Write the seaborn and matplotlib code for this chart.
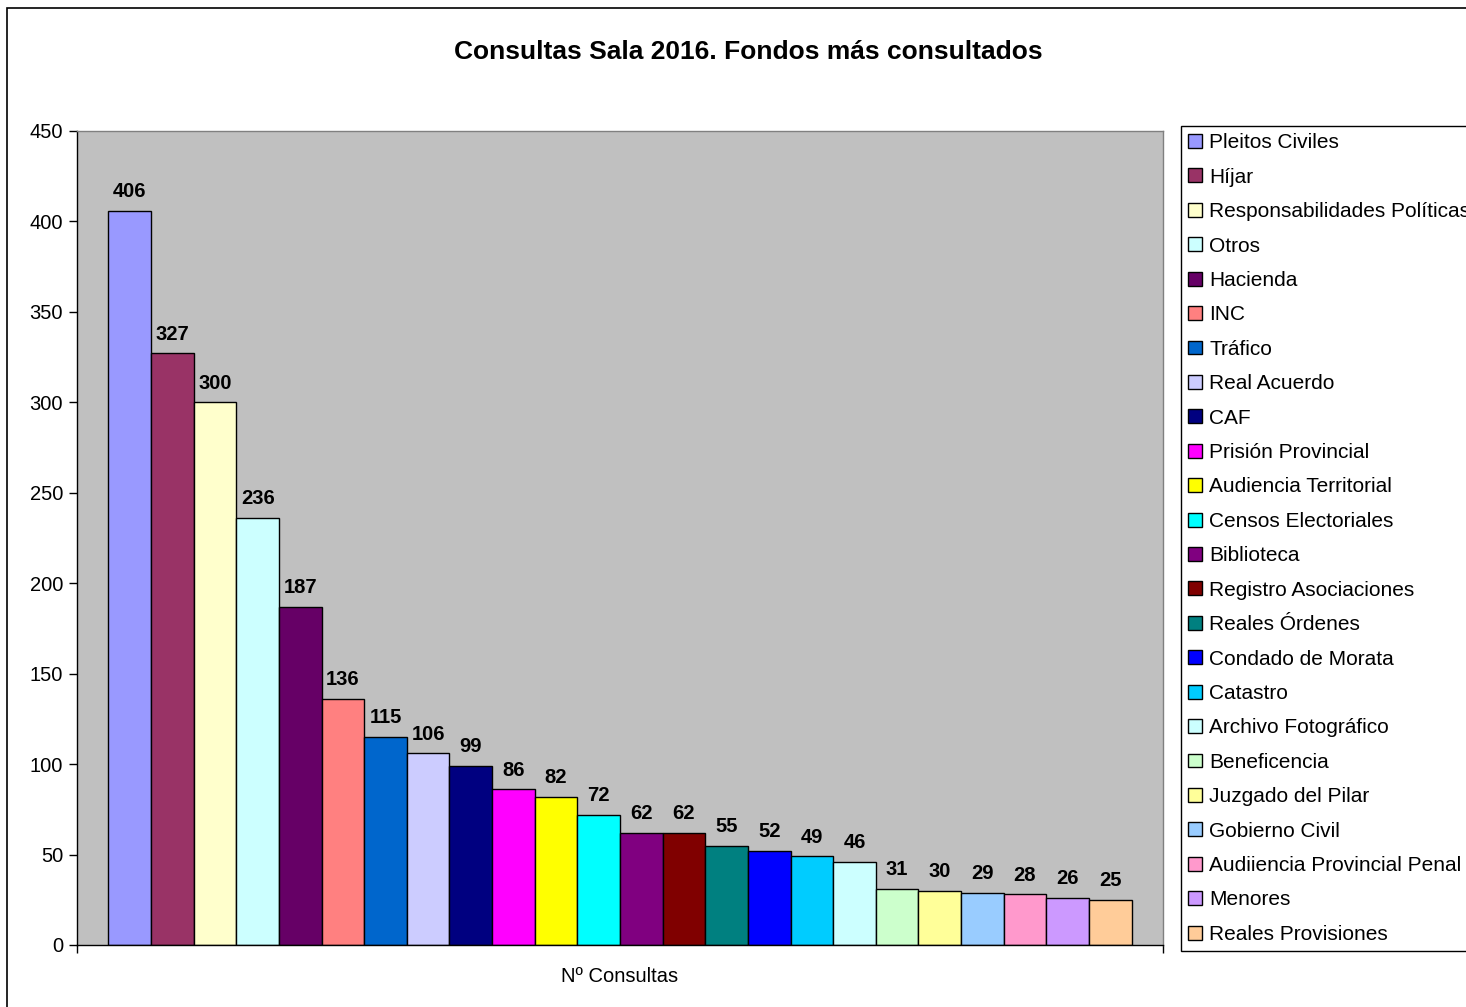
import pandas as pd
import matplotlib.pyplot as plt
import seaborn as sns
from matplotlib.patches import Rectangle

# Fondos and number of consultations (Sala 2016)
fondos = ['Pleitos Civiles', 'Híjar', 'Responsabilidades Políticas', 'Otros', 'Hacienda',
          'INC', 'Tráfico', 'Real Acuerdo', 'CAF', 'Prisión Provincial',
          'Audiencia Territorial', 'Censos Electoriales', 'Biblioteca', 'Registro Asociaciones',
          'Reales Órdenes', 'Condado de Morata', 'Catastro', 'Archivo Fotográfico',
          'Beneficencia', 'Juzgado del Pilar', 'Gobierno Civil', 'Audiiencia Provincial Penal',
          'Menores', 'Reales Provisiones']
consultas = [406, 327, 300, 236, 187, 136, 115, 106, 99, 86, 82, 72,
             62, 62, 55, 52, 49, 46, 31, 30, 29, 28, 26, 25]
colores = ['#9999FF', '#993366', '#FFFFCC', '#CCFFFF', '#660066', '#FF8080',
           '#0066CC', '#CCCCFF', '#000080', '#FF00FF', '#FFFF00', '#00FFFF',
           '#800080', '#800000', '#008080', '#0000FF', '#00CCFF', '#CCFFFF',
           '#CCFFCC', '#FFFF99', '#99CCFF', '#FF99CC', '#CC99FF', '#FFCC99']
categoria = 'Nº Consultas'

df = pd.DataFrame({'serie': [categoria] * len(fondos), 'fondo': fondos, 'valor': consultas})

sns.set_style('white')
plt.rcParams['font.family'] = ['Liberation Sans', 'DejaVu Sans']
plt.rcParams['text.color'] = 'black'
plt.rcParams['xtick.color'] = 'black'
plt.rcParams['ytick.color'] = 'black'
plt.rcParams['axes.labelcolor'] = 'black'

fig = plt.figure(figsize=(14.66, 10.07), dpi=100)
ax = fig.add_axes([77 / 1466, 1 - 945 / 1007, (1163 - 77) / 1466, (945 - 131) / 1007])
ax.set_facecolor('#C0C0C0')

sns.barplot(data=df, x='serie', y='valor', hue='fondo', hue_order=fondos,
            palette=colores, width=0.942, saturation=1, edgecolor='black',
            linewidth=1, ax=ax, legend=True)

for cont in ax.containers:
    ax.bar_label(cont, fmt='%d', padding=7, fontsize=14.5, fontweight='bold', color='black')

ax.set_xlim(-0.5, 0.5)
ax.set_ylim(0, 450)
ax.set_yticks(range(0, 451, 50))
ax.set_xlabel('')
ax.set_ylabel('')
ax.tick_params(axis='y', labelsize=14.5, left=True, length=6, width=1, color='black',
               labelcolor='black', pad=4)
ax.tick_params(axis='x', labelsize=14.5, bottom=False, pad=12, labelcolor='black')
ax.set_xticks([-0.5, 0.5], minor=True)
ax.tick_params(axis='x', which='minor', bottom=True, length=6, width=1, color='black')

for s in ['left', 'bottom']:
    ax.spines[s].set_color('black')
    ax.spines[s].set_linewidth(1)
for s in ['top', 'right']:
    ax.spines[s].set_color('#808080')
    ax.spines[s].set_linewidth(1)

fig.text(748 / 1466, 1 - 52 / 1007, 'Consultas Sala 2016. Fondos más consultados',
         ha='center', va='center', fontsize=19, fontweight='bold', color='black')

leg = ax.legend(loc='upper left', bbox_to_anchor=(1181 / 1466, 1 - 126 / 1007),
                bbox_transform=fig.transFigure, fontsize=15, frameon=True,
                fancybox=False, edgecolor='black', framealpha=1,
                handlelength=0.65, handleheight=0.65, handletextpad=0.35,
                labelspacing=0.74, borderpad=0.35, borderaxespad=0)
leg.get_frame().set_linewidth(1)
for t in leg.get_texts():
    t.set_color('black')

fig.patches.append(Rectangle((7 / 1466, -0.1), 1.2, 1.1 - 8 / 1007, transform=fig.transFigure,
                             fill=False, edgecolor='black', linewidth=1.2))

fig.savefig('out.png', dpi=100, facecolor='white')
